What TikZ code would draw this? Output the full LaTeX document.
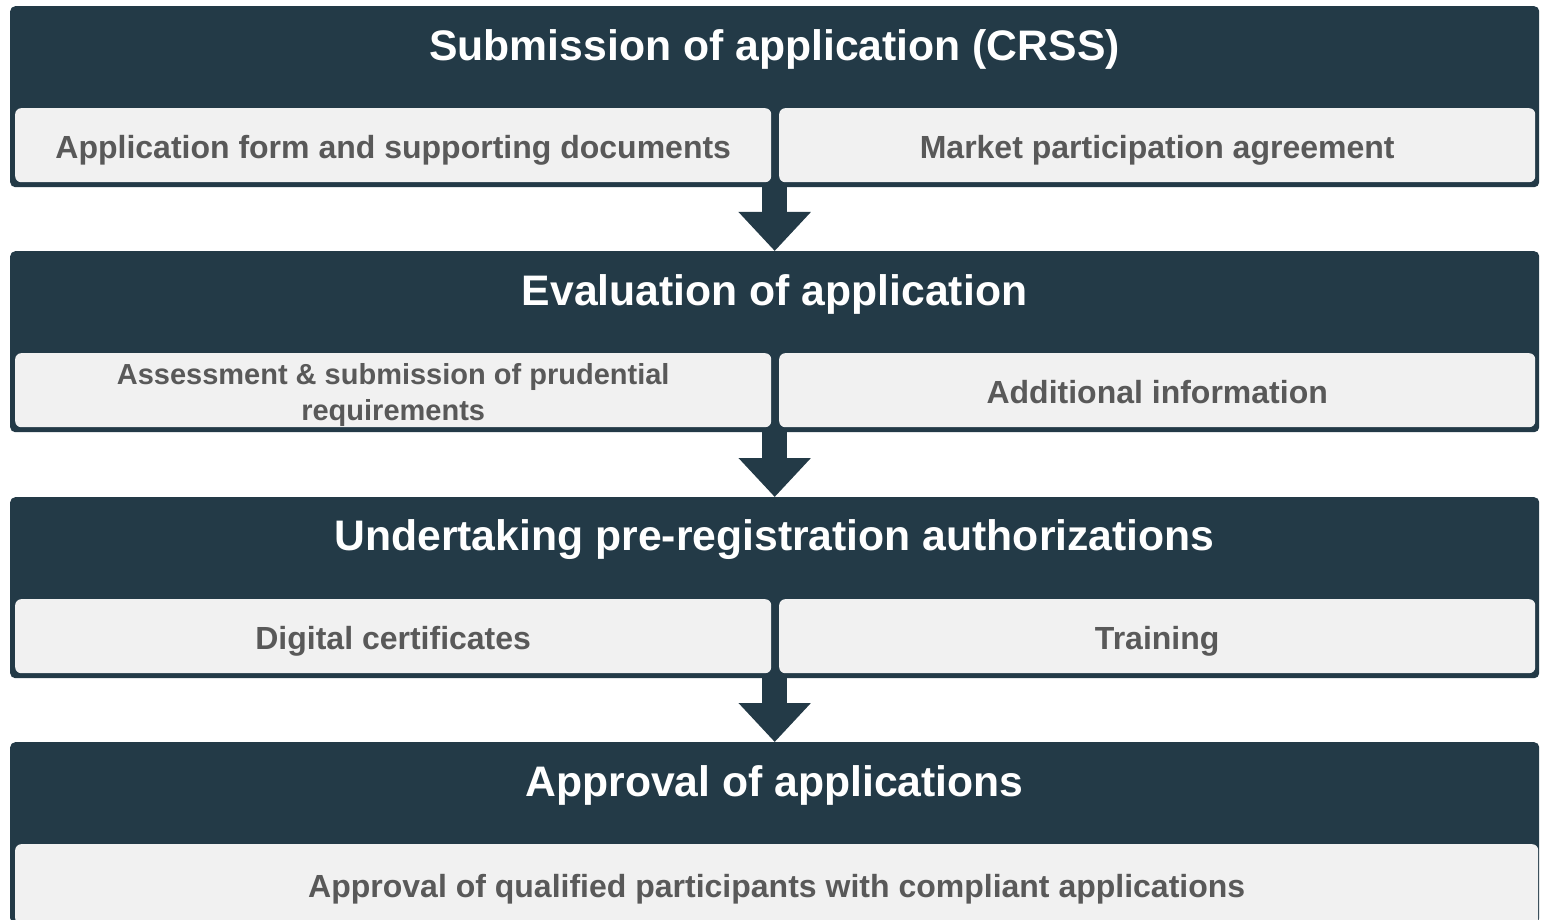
\documentclass[tikz,border=0pt]{standalone}
\usepackage{fontspec}
\setmainfont{Liberation Sans}
\usetikzlibrary{arrows.meta}
\definecolor{stagedark}{HTML}{233A47}
\definecolor{itemlight}{HTML}{F1F1F1}
\definecolor{itemtext}{HTML}{595959}
\tikzset{
  stagebox/.style={fill=stagedark, rounded corners=5pt, inner sep=0pt, anchor=north west,
    minimum width=1529pt, minimum height=181pt},
  stagetitle/.style={text=white, font=\fontsize{42.7}{48}\selectfont\bfseries},
  itembox/.style={fill=itemlight, rounded corners=6pt, inner sep=0pt, anchor=north west,
    minimum width=756pt, minimum height=74pt, text=itemtext,
    text height=26pt, text depth=0pt,
    font=\fontsize{32}{36}\selectfont\bfseries},
  flowarrow/.style={draw=stagedark, line width=25pt,
    -{Triangle[width=70pt, length=39pt]}}
}
\begin{document}
\begin{tikzpicture}[x=1pt, y=-1pt]
		%%%%% START %%%%%
		\useasboundingbox (0, 0) rectangle (1543, 920);
		\clip (0, 0) rectangle (1543, 920);
		
		\node[stagebox] (s1) at (10, 6) {};
		\node[stagetitle] (t1) at (774.5, 49) {Submission of application (CRSS)};
		\node[itembox] (a1) at (15, 108) {Application form and supporting documents};
		\node[itembox] (b1) at (779, 108) {Market participation agreement};
		
		\node[stagebox] (s2) at (10, 251) {};
		\node[stagetitle] (t2) at (774.5, 294) {Evaluation of application};
		\node[itembox, align=center, text height={}, text depth={},
			font=\fontsize{29}{36}\selectfont\bfseries] (a2) at (15, 353)
			{\rule{0pt}{30pt}Assessment \& submission of prudential\\requirements};
		\node[itembox] (b2) at (779, 353) {Additional information};
		
		\node[stagebox] (s3) at (10, 497) {};
		\node[stagetitle] (t3) at (774.5, 540) {Undertaking pre-registration authorizations};
		\node[itembox] (a3) at (15, 599) {Digital certificates};
		\node[itembox] (b3) at (779, 599) {Training};
		
		\node[stagebox] (s4) at (10, 742) {};
		\node[stagetitle] (t4) at (774.5, 785) {Approval of applications};
		\node[itembox, minimum width=1523pt, minimum height=80pt] (a4) at (15, 844)
			{Approval of qualified participants with compliant applications};
		
		\draw[flowarrow] (s1.south) -- (s2.north);
		\draw[flowarrow] (s2.south) -- (s3.north);
		\draw[flowarrow] (s3.south) -- (s4.north);
		%%%%% END %%%%%
\end{tikzpicture}
\end{document}
